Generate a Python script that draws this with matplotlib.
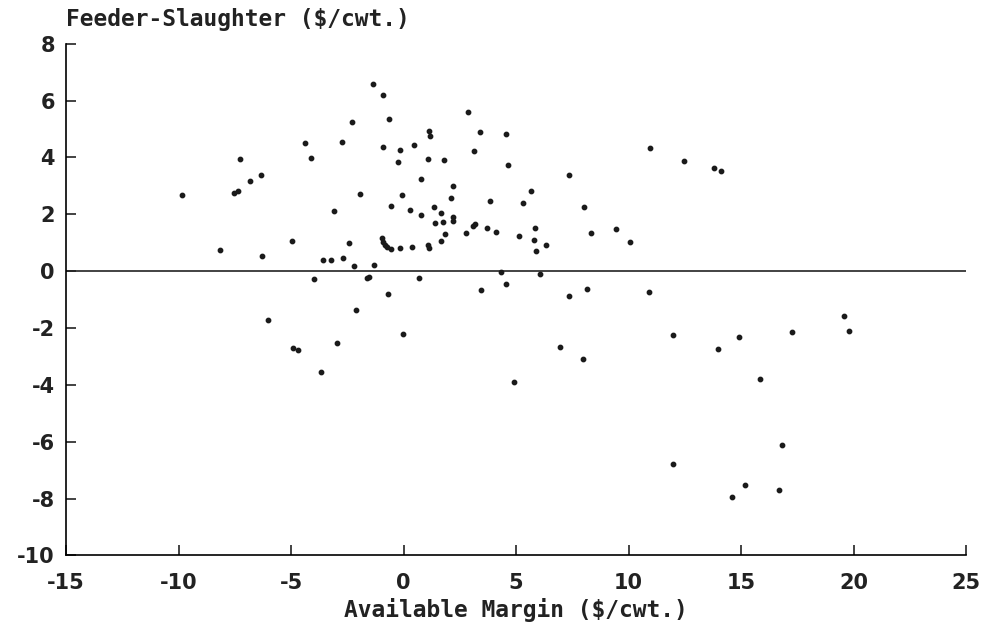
import matplotlib.pyplot as plt

# Data
avail_margin = [
    -9.86, -8.14, -7.27, -7.53, -7.34, -6.84, -6.35, -6.29, -4.94, -4.36,
    -4.12, -3.96, -3.59, -3.22, -3.10, -2.73, -2.70, -2.41, -2.28, -2.20,
    -1.93, -1.37, -0.92, -0.64, -0.90, -0.17, -0.27, 0.45, 1.13, 1.19,
    1.09, 1.80, 0.76, 2.88, 3.40, 4.57, 3.12, 4.66, 7.36, 2.20,
    2.11, -0.05, -0.57, 0.30, 0.76, 1.34, 1.68, 1.41, 1.76, 2.20,
    2.20, 1.86, 1.68, 3.86, 5.64, 5.30, 2.78, 3.10, 3.19, 3.71,
    4.11, 5.12, 5.86, 5.81, 5.88, 6.32, 8.02, 8.33, 9.44, 10.04,
    -0.96, -0.91, -0.84, -0.75, -0.57, -0.16, 0.38, 1.10, 1.15, -1.30,
    -1.64, -1.52, 0.70, 4.32, 6.04, 4.57, 3.46, 8.17, 10.94, 12.44,
    13.77, 14.08, 10.91, 19.55, -0.69, -2.10, -6.02, -0.04, -2.96, -4.93,
    -4.70, -3.67, 7.37, 11.95, 14.91, 13.96, 6.96, 7.95, 4.90, 15.84,
    19.77, 17.27, 16.82, 11.96, 15.16, 16.66, 14.59,
]
feeder_slaughter = [
    2.69, 0.74, 3.94, 2.76, 2.82, 3.16, 3.39, 0.52, 1.05, 4.50,
    3.99, -0.27, 0.38, 0.40, 2.11, 4.56, 0.45, 1.00, 5.23, 0.19,
    2.71, 6.59, 6.18, 5.34, 4.37, 4.25, 3.83, 4.44, 4.94, 4.74,
    3.96, 3.91, 3.25, 5.60, 4.89, 4.82, 4.23, 3.75, 3.39, 2.98,
    2.58, 2.69, 2.29, 2.16, 1.99, 2.26, 2.06, 1.71, 1.72, 1.91,
    1.77, 1.32, 1.05, 2.47, 2.82, 2.40, 1.34, 1.60, 1.65, 1.53,
    1.38, 1.23, 1.52, 1.10, 0.72, 0.92, 2.26, 1.33, 1.48, 1.02,
    1.17, 1.02, 0.91, 0.85, 0.79, 0.81, 0.84, 0.91, 0.81, 0.23,
    -0.25, -0.22, -0.23, -0.03, -0.09, -0.45, -0.66, -0.64, 4.33, 3.89,
    3.63, 3.53, -0.72, -1.57, -0.80, -1.36, -1.71, -2.20, -2.54, -2.70,
    -2.77, -3.54, -0.88, -2.25, -2.31, -2.73, -2.66, -3.08, -3.89, -3.80,
    -2.11, -2.14, -6.10, -6.80, -7.53, -7.69, -7.94,
]

x_ticks = [-15, -10, -5, 0, 5, 10, 15, 20, 25]
y_ticks = [8, 6, 4, 2, 0, -2, -4, -6, -8, -10]

plt.rcParams['font.family'] = ['DejaVu Sans']
plt.rcParams['font.weight'] = 'bold'
plt.rcParams['axes.unicode_minus'] = False

fig = plt.figure(figsize=(9.85, 6.34), dpi=100)
ax = fig.add_axes([0.067, 0.124, 0.914, 0.807])

ax.scatter(avail_margin, feeder_slaughter, s=10, color='#1a1a1a', zorder=3)
ax.axhline(0, color='#222222', linewidth=1.2)

ax.set_xlim(-15, 25)
ax.set_ylim(-10, 8)
ax.set_xticks(x_ticks)
ax.set_yticks(y_ticks)
ax.tick_params(direction='in', length=7, width=1.2, labelsize=15, colors='#222222')
ax.tick_params(axis='x', pad=13)
ax.tick_params(axis='y', pad=8)

ax.spines['top'].set_visible(False)
ax.spines['right'].set_visible(False)
ax.spines['left'].set_linewidth(1.2)
ax.spines['bottom'].set_linewidth(1.2)

ax.set_xlabel('Available Margin ($/cwt.)', fontsize=16.5, fontweight='bold',
              family='DejaVu Sans Mono', labelpad=3, color='#222222')
fig.text(0.067, 0.970, 'Feeder-Slaughter ($/cwt.)', fontsize=16.5, fontweight='bold',
         family='DejaVu Sans Mono', ha='left', va='center', color='#222222')

fig.savefig('out.png', dpi=100)
